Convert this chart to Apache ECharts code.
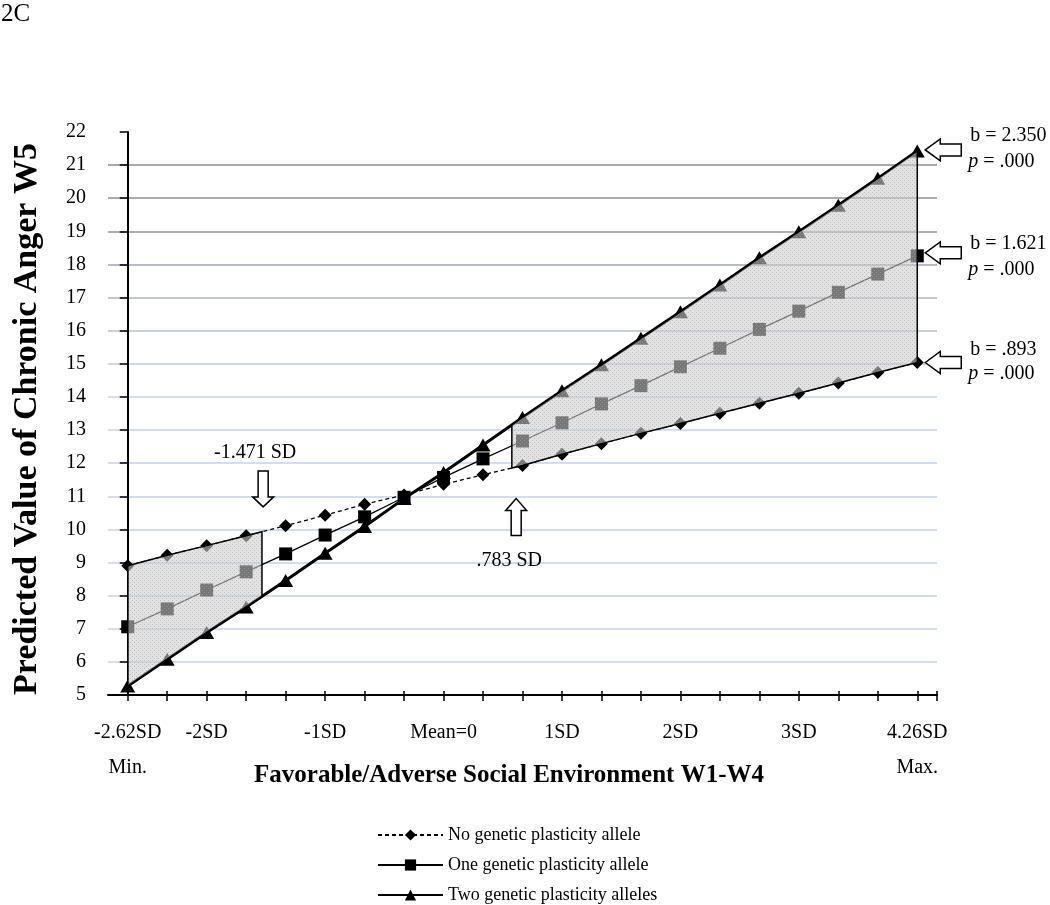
<!DOCTYPE html>
<html>
<head>
<meta charset="utf-8">
<script src="https://cdn.jsdelivr.net/npm/echarts@6/dist/echarts.min.js"></script>
<style>html,body{margin:0;padding:0;background:#fff}#c{width:1050px;height:905px}</style>
</head>
<body>
<div id="c"></div>
<script>
// ---- data ----
const xLabels = ['-2.62SD\nMin.', '', '-2SD', '', '', '-1SD', '', '', 'Mean=0', '', '', '1SD', '', '', '2SD', '', '', '3SD', '', '', '4.26SD\nMax.'];
const labelIdx = [0, 2, 5, 8, 11, 14, 17, 20];
const tickIdx = [0,1,2,3,4,5,6,7,8,9,10,11,12,13,14,15,16,17,18,19,20,20.5];
const noAllele   = [8.90, 9.22, 9.51, 9.81, 10.11, 10.43, 10.76, 11.04, 11.36, 11.65, 11.93, 12.27, 12.59, 12.90, 13.20, 13.51, 13.81, 14.11, 14.42, 14.74, 15.04];
const oneAllele  = [7.06, 7.60, 8.17, 8.72, 9.26, 9.83, 10.38, 10.97, 11.57, 12.13, 12.67, 13.22, 13.79, 14.34, 14.91, 15.47, 16.04, 16.59, 17.16, 17.71, 18.26];
const twoAlleles = [5.27, 6.08, 6.89, 7.66, 8.46, 9.28, 10.09, 10.93, 11.72, 12.55, 13.38, 14.19, 14.97, 15.77, 16.57, 17.38, 18.20, 18.99, 19.79, 20.60, 21.43];
const seriesNames = ['No genetic plasticity allele', 'One genetic plasticity allele', 'Two genetic plasticity alleles'];
const regionLeft = [0, 3.4];     // shaded region, in point-index units
const regionRight = [9.73, 20];
const slopeLabels = ['b = 2.350', 'b = 1.621', 'b = .893'];
const pLabel = '{i|p} = .000';
const leftNote = '-1.471 SD';
const rightNote = '.783 SD';
const yTitle = 'Predicted Value of Chronic Anger W5';
const xTitle = 'Favorable/Adverse Social Environment W1-W4';

const FONT = '"Liberation Serif", "Times New Roman", serif';
const chart = echarts.init(document.getElementById('c'), null, {renderer: 'canvas'});

function valueAt(arr, x) {
  const i0 = Math.floor(x), i1 = Math.min(arr.length - 1, Math.ceil(x));
  if (i0 === i1) return arr[i0];
  return arr[i0] + (arr[i1] - arr[i0]) * (x - i0);
}
function regionPts(api, x0, x1, top, bottom) {
  const pts = [[x0, valueAt(top, x0)]];
  for (let i = Math.ceil(x0); i <= Math.floor(x1); i++) if (i > x0 && i < x1) pts.push([i, top[i]]);
  pts.push([x1, valueAt(top, x1)]);
  pts.push([x1, valueAt(bottom, x1)]);
  for (let i = Math.floor(x1); i >= Math.ceil(x0); i--) if (i > x0 && i < x1) pts.push([i, bottom[i]]);
  pts.push([x0, valueAt(bottom, x0)]);
  return pts.map(p => api.coord(p));
}

// dotted fill pattern
const pc = document.createElement('canvas');
pc.width = 4; pc.height = 4;
const g = pc.getContext('2d');
g.fillStyle = 'rgba(205,205,205,0.58)';
g.fillRect(0, 0, 4, 4);
g.fillStyle = 'rgba(165,165,165,0.58)';
g.fillRect(0, 0, 1, 1); g.fillRect(2, 2, 1, 1);
const pattern = {image: pc, repeat: 'repeat'};

const gridColors = ['rgba(0,0,0,0)', '#c6d2e8', '#c6d2e8', '#c6d2e8', '#c6d2e8', '#c6d2e8', '#c6d2e8', '#c6d2e8', '#c6d2e8', '#c6d2e8',
  '#c0cbe0', '#b6bfd2', '#adb4c4', '#9fa4b0', '#92959d', '#8e9096', '#8c8d92', 'rgba(0,0,0,0)'];

const toPairs = arr => arr.map((v, i) => [i, v]);
const legendTops = [826, 856, 886];

chart.setOption({
  animation: false,
  backgroundColor: '#fff',
  grid: {left: 108, right: 113, top: 132, bottom: 210, outerBoundsMode: 'none'},
  legend: seriesNames.map((n, k) => ({
    orient: 'vertical', left: 377, top: legendTops[k], padding: 0, itemWidth: 65, itemHeight: 14, itemGap: 5,
    textStyle: {fontFamily: FONT, fontSize: 18, color: '#000'},
    data: [n], selectedMode: false
  })),
  xAxis: [{
    type: 'value', min: -0.5, max: 20.5,
    axisLine: {show: true, onZero: false, lineStyle: {color: '#000', width: 2}},
    axisTick: {show: true, length: 6, customValues: tickIdx, lineStyle: {color: '#000', width: 1.5}},
    axisLabel: {customValues: labelIdx, formatter: v => xLabels[Math.round(v)], margin: 20, lineHeight: 35,
      fontFamily: FONT, fontSize: 20, color: '#000'},
    splitLine: {show: false}
  }, {
    type: 'value', min: -0.5, max: 20.5, position: 'bottom',
    axisLine: {show: false},
    axisTick: {show: true, inside: true, length: 4, customValues: tickIdx, lineStyle: {color: '#000', width: 1.5}},
    axisLabel: {show: false}, splitLine: {show: false}
  }],
  yAxis: {
    type: 'value', min: 5, max: 22, interval: 1,
    axisLine: {show: true, lineStyle: {color: '#000', width: 2}},
    axisTick: {show: true, length: 8, lineStyle: {color: '#000', width: 1.5}},
    axisLabel: {margin: 22, fontFamily: FONT, fontSize: 20, color: '#000'},
    splitLine: {show: true, lineStyle: {color: gridColors, width: 1.5}}
  },
  series: [{
    name: seriesNames[0], type: 'line', data: toPairs(noAllele),
    symbol: 'diamond', symbolSize: 13, showSymbol: true,
    lineStyle: {color: '#000', width: 1.3, type: [4, 3]}, itemStyle: {color: '#000'},
    emphasis: {disabled: true}, z: 2
  }, {
    name: seriesNames[1], type: 'line', data: toPairs(oneAllele),
    symbol: 'rect', symbolSize: 13, showSymbol: true,
    lineStyle: {color: '#000', width: 1.3}, itemStyle: {color: '#000'},
    emphasis: {disabled: true}, z: 2
  }, {
    name: seriesNames[2], type: 'line', data: toPairs(twoAlleles),
    symbol: 'triangle', symbolSize: [15, 13], showSymbol: true,
    lineStyle: {color: '#000', width: 3}, itemStyle: {color: '#000'},
    emphasis: {disabled: true}, z: 2
  }, {
    name: 'regions', type: 'custom', data: [[0, 0]], z: 5, silent: true,
    renderItem: function (params, api) {
      const st = {fill: pattern, stroke: '#000', lineWidth: 1.5};
      return {type: 'group', children: [
        {type: 'polygon', shape: {points: regionPts(api, regionLeft[0], regionLeft[1], noAllele, twoAlleles)}, style: st},
        {type: 'polygon', shape: {points: regionPts(api, regionRight[0], regionRight[1], twoAlleles, noAllele)}, style: st}
      ]};
    }
  }]
});

// ---- annotations ----
const P = (x, y) => chart.convertToPixel({xAxisIndex: 0, yAxisIndex: 0}, [x, y]);
function arrow(tip, dir, L, H, W, S) {
  const local = [[0, 0], [H, -W / 2], [H, -S / 2], [L, -S / 2], [L, S / 2], [H, S / 2], [H, W / 2]];
  const pts = local.map(([a, p]) => {
    if (dir === 'left') return [tip[0] + a, tip[1] + p];
    if (dir === 'down') return [tip[0] + p, tip[1] - a];
    return [tip[0] + p, tip[1] + a];
  });
  return {type: 'polygon', shape: {points: pts}, style: {fill: '#fff', stroke: '#000', lineWidth: 1.5}, z: 100};
}
function txt(x, y, text, size, extra) {
  return {type: 'text', x: x, y: y, z: 100, style: Object.assign({text: text, fontFamily: FONT, fontSize: size, fill: '#000',
    align: 'center', verticalAlign: 'middle'}, extra || {})};
}
const els = [];
els.push(txt(1, 14, '2C', 25, {align: 'left'}));
els.push(txt(27, 419, yTitle, 34, {fontWeight: 'bold'}));
els[els.length - 1].rotation = Math.PI / 2;
els.push(txt(509, 776, xTitle, 25, {fontWeight: 'bold'}));

const lt = P(3.43, 10.68);
els.push(arrow(lt, 'down', 36, 10, 21, 10));
els.push(txt(lt[0] - 8, lt[1] - 54, leftNote, 20));
const rt = P(9.84, 10.93);
els.push(arrow(rt, 'up', 37, 12, 21, 10));
els.push(txt(rt[0] - 7, rt[1] + 62, rightNote, 20));

const ends = [twoAlleles[20], oneAllele[20], noAllele[20]];
const tipDy = [-1, -3, 0];
const textDy = [[-14, 12], [-9, 17], [-13, 11]];
ends.forEach((v, k) => {
  const p = P(20, v);
  const tip = [p[0] + 8, p[1] + tipDy[k]];
  els.push(arrow(tip, 'left', 36, 15, 22, 12));
  els.push(txt(tip[0] + 45, tip[1] + textDy[k][0], slopeLabels[k], 20, {align: 'left'}));
  els.push(txt(tip[0] + 43, tip[1] + textDy[k][1], pLabel, 20, {align: 'left',
    rich: {i: {fontStyle: 'italic', fontFamily: FONT, fontSize: 20}}}));
});
chart.setOption({graphic: els});
</script>
</body>
</html>
